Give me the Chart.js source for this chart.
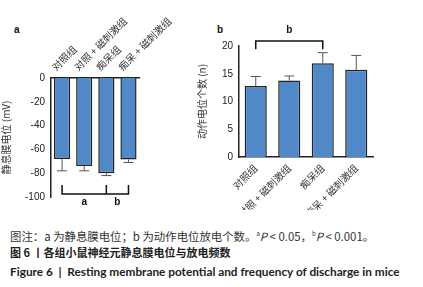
<!DOCTYPE html>
<html>
<head>
<meta charset="utf-8">
<script src="https://cdn.jsdelivr.net/npm/chart.js@4"></script>
<style>
  body { margin: 0; background: #fff; width: 423px; height: 287px; overflow: hidden; position: relative;
         font-family: 'Noto Sans CJK SC', 'Noto Sans', sans-serif; }
  .panel { position: absolute; }
  .tag { position: absolute; font: bold 10px 'Liberation Sans', sans-serif; color: #111; }
  .cap { position: absolute; left: 10px; white-space: nowrap; color: #333; line-height: 1; }
</style>
</head>
<body>
<div class="tag" style="left:14px;top:24px">a</div>
<div class="tag" style="left:217px;top:24px">b</div>
<div class="panel" style="left:0;top:0;width:180px;height:210px"><canvas id="chart-a"></canvas></div>
<div class="panel" style="left:196px;top:0;width:227px;height:210px"><canvas id="chart-b"></canvas></div>

<div class="cap" style="top:231px;font-size:11.4px">图注：a 为静息膜电位；b 为动作电位放电个数。<sup style="font-size:6px">a</sup><i>P</i> &lt; 0.05，<sup style="font-size:6px">b</sup><i>P</i> &lt; 0.001。</div>
<div class="cap" style="top:247px;font-size:11px;font-weight:bold;color:#222">图 6 丨各组小鼠神经元静息膜电位与放电频数</div>
<div class="cap" style="top:264px;font:bold 11.8px Lato, sans-serif;color:#222">Figure 6 &nbsp;| &nbsp;Resting membrane potential and frequency of discharge in mice</div>

<script>
// groups on both panels
const groups = ['对照组', '对照 + 磁刺激组', '痴呆组', '痴呆 + 磁刺激组'];

// panel a: resting membrane potential (mV), error bars go downward
const restingMean = [-68, -74, -80, -68.5];
const restingErr = [10, 4, 2, 2.5];
const restingTicks = [0, -20, -40, -60, -80, -100];

// panel b: number of action potentials (n)
const spikeMean = [12.8, 13.8, 16.9, 15.7];
const spikeErr = [1.7, 0.8, 1.9, 2.6];
const spikeTicks = [0, 5, 10, 15, 20];

const BAR = '#5189c8';
const INK = '#222';
const FONT = "'Noto Sans CJK SC', 'Noto Sans', sans-serif";

function errorBars(means, errs) {
    return {
        id: 'errs',
        afterDatasetsDraw(chart) {
            const { ctx, scales: { x, y } } = chart;
            ctx.save();
            ctx.strokeStyle = '#555';
            ctx.lineWidth = 1;
            means.forEach((m, i) => {
                const cx = x.getPixelForValue(i);
                const end = m + Math.sign(m) * errs[i];
                const y0 = y.getPixelForValue(m);
                const y1 = y.getPixelForValue(end);
                ctx.beginPath();
                ctx.moveTo(cx, y0);
                ctx.lineTo(cx, y1);
                ctx.moveTo(cx - 5, y1);
                ctx.lineTo(cx + 5, y1);
                ctx.stroke();
            });
            ctx.restore();
        }
    };
}

// significance bracket: from, to are category indexes, mid optional
function bracket(from, to, mid, armVal, barVal, labels) {
    return {
        id: 'bracket',
        afterDraw(chart) {
            const { ctx, scales: { x, y } } = chart;
            const ya = y.getPixelForValue(armVal);
            const yb = y.getPixelForValue(barVal);
            const x0 = x.getPixelForValue(from);
            const x1 = x.getPixelForValue(to);
            ctx.save();
            ctx.strokeStyle = '#111';
            ctx.lineWidth = 1.5;
            ctx.beginPath();
            ctx.moveTo(x0, ya);
            ctx.lineTo(x0, yb);
            ctx.lineTo(x1, yb);
            ctx.lineTo(x1, ya);
            if (mid !== null) {
                const xm = x.getPixelForValue(mid);
                ctx.moveTo(xm, ya);
                ctx.lineTo(xm, yb);
            }
            ctx.stroke();
            ctx.fillStyle = '#111';
            ctx.font = "bold 10px 'Liberation Sans', sans-serif";
            ctx.textAlign = 'center';
            ctx.textBaseline = 'middle';
            labels.forEach(l => {
                ctx.fillText(l.text, (x.getPixelForValue(l.a) + x.getPixelForValue(l.b)) / 2, l.y);
            });
            ctx.restore();
        }
    };
}

function baseOptions(yMin, yMax, ticks, yTitle, xPos, xHeight, yWidth, padding, barPct) {
    return {
        responsive: true,
        maintainAspectRatio: false,
        animation: false,
        layout: { padding },
        plugins: { legend: { display: false }, tooltip: { enabled: false } },
        datasets: { bar: { categoryPercentage: 1, barPercentage: barPct } },
        scales: {
            x: {
                position: xPos,
                grid: { display: false, drawOnChartArea: false, tickLength: 4, color: INK },
                border: { color: INK, width: 1.5 },
                ticks: { color: '#333', font: { family: FONT, size: 10 }, maxRotation: 45, minRotation: 45, padding: 1 },
                afterFit: s => { s.height = xHeight; }
            },
            y: {
                min: yMin,
                max: yMax,
                grid: { display: false, drawOnChartArea: false, tickLength: 4, color: INK },
                border: { color: INK, width: 1.5 },
                afterBuildTicks: s => { s.ticks = ticks.map(v => ({ value: v })); },
                ticks: { color: INK, font: { family: "'Liberation Sans', sans-serif", size: 10 }, padding: 2 },
                title: { display: true, text: yTitle, color: '#333', font: { family: FONT, size: 10 }, padding: 0 },
                afterFit: s => { s.width = yWidth; }
            }
        }
    };
}

new Chart(document.getElementById('chart-a'), {
    type: 'bar',
    data: {
        labels: groups,
        datasets: [{ data: restingMean, backgroundColor: BAR, borderColor: INK, borderWidth: 1.5 }]
    },
    options: baseOptions(-100, 0, restingTicks, '静息膜电位 (mV)', 'top', 78, 51,
        { top: 0, left: 0, right: 8, bottom: 13 }, 0.73),
    plugins: [
        errorBars(restingMean, restingErr),
        bracket(0, 3, 2, -90, -97.5, [{ text: 'a', a: 0, b: 2, y: 202 }, { text: 'b', a: 2, b: 3, y: 202 }])
    ]
});

new Chart(document.getElementById('chart-b'), {
    type: 'bar',
    data: {
        labels: groups,
        datasets: [{ data: spikeMean, backgroundColor: BAR, borderColor: INK, borderWidth: 1.5 }]
    },
    options: baseOptions(0, 20, spikeTicks, '动作电位个数 (n)', 'bottom', 53, 43,
        { top: 46, left: 0, right: 50, bottom: 0 }, 0.66),
    plugins: [
        errorBars(spikeMean, spikeErr),
        bracket(0, 2, null, 19.4, 20.9, [{ text: 'b', a: 0, b: 2, y: 30 }])
    ]
});
</script>
</body>
</html>
